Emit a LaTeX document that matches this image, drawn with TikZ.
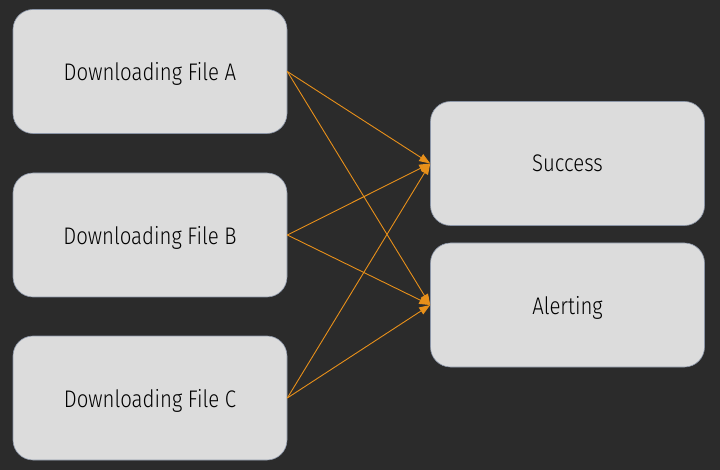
\documentclass[tikz,border=0pt]{standalone}
\usepackage{fontspec}
\setmainfont{Fira Sans Light}[FakeStretch=0.85]
\usetikzlibrary{arrows.meta}
\definecolor{bgdark}{HTML}{2B2B2B}
\definecolor{boxgrey}{HTML}{DCDCDC}
\definecolor{boxedge}{HTML}{8C96A8}
\definecolor{flow}{HTML}{E8901A}
\tikzset{
  task/.style={draw=boxedge, line width=0.6pt, fill=boxgrey, rounded corners=20pt,
    minimum width=274pt, minimum height=124pt, inner sep=0pt, text depth=0pt,
    font=\fontsize{24}{28}\selectfont, text=black},
  flowline/.style={draw=flow, line width=0.9pt, -{Triangle[length=11pt,width=8pt]}}
}
\begin{document}
\begin{tikzpicture}[x=1pt, y=-1pt]
\fill[bgdark] (0,0) rectangle (720,470);
\useasboundingbox (0,0) rectangle (720,470);
\node[task] (fileA) at (150,71.5) {Downloading File A};
\node[task] (fileB) at (150,235) {Downloading File B};
\node[task] (fileC) at (150,398) {Downloading File C};
\node[task] (success) at (567.5,163.5) {Success};
\node[task] (alert) at (567.5,305) {Alerting};
\draw[flowline] (fileA.east) -- (success.west);
\draw[flowline] (fileA.east) -- (alert.west);
\draw[flowline] (fileB.east) -- (success.west);
\draw[flowline] (fileB.east) -- (alert.west);
\draw[flowline] (fileC.east) -- (success.west);
\draw[flowline] (fileC.east) -- (alert.west);
\end{tikzpicture}
\end{document}
